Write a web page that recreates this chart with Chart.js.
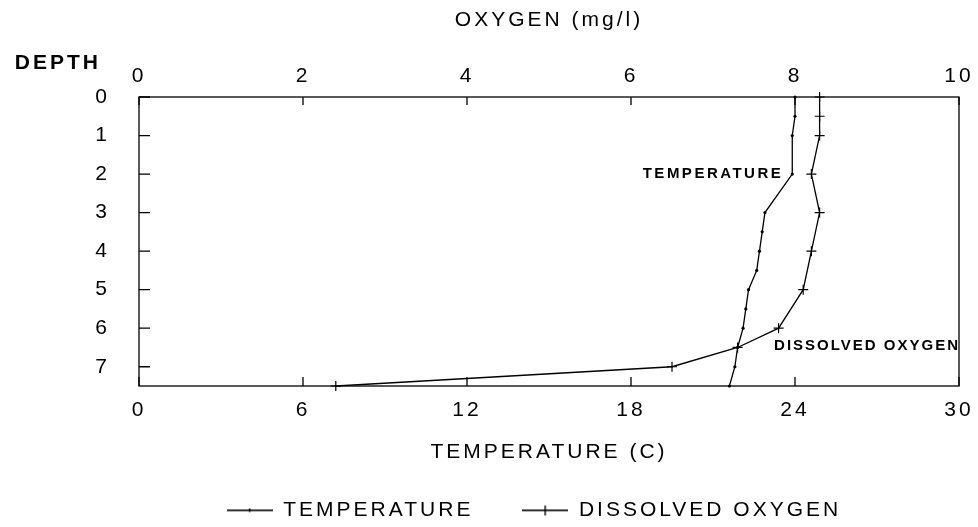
<!DOCTYPE html>
<html lang="en">
<head>
    <meta charset="UTF-8">
    <title>Depth profile</title>
    <style>
        body {
            margin: 0;
            padding: 0;
            background-color: #fff;
        }
        #wrap {
            width: 978px;
            height: 527px;
        }
    </style>
    <script src="https://cdn.jsdelivr.net/npm/chart.js"></script>
</head>
<body>
    <div id="wrap"><canvas id="profileChart" width="978" height="527"></canvas></div>

    <script>
        // values
        const depthTemp = [0, 0.5, 1, 2, 3, 3.5, 4, 4.5, 5, 5.5, 6, 6.5, 7, 7.5];
        const temperature = [24.0, 24.0, 23.9, 23.9, 22.9, 22.8, 22.7, 22.6, 22.3, 22.2, 22.1, 21.9, 21.8, 21.6];

        const depthOxygen = [0, 0.5, 1, 2, 3, 4, 5, 6, 6.5, 7, 7.5];
        const oxygen = [8.3, 8.3, 8.3, 8.2, 8.3, 8.2, 8.1, 7.8, 7.3, 6.5, 2.4];

        // axis ticks
        const depthTicks = [0, 1, 2, 3, 4, 5, 6, 7];
        const tempTicks = [0, 6, 12, 18, 24, 30];
        const oxygenTicks = [0, 2, 4, 6, 8, 10];

        const FONT = '"Liberation Sans", Arial, sans-serif';
        Chart.defaults.color = '#000';
        Chart.defaults.font.family = FONT;
        Chart.defaults.font.size = 21;

        // small line swatches for the legend
        function swatch(cross) {
            const c = document.createElement('canvas');
            c.width = 46;
            c.height = 12;
            const g = c.getContext('2d');
            g.fillStyle = '#000';
            g.fillRect(0, 5, 46, 1.6);
            if (cross) {
                g.fillRect(22, 1, 1.4, 10);
            } else {
                g.fillRect(22, 4, 1.6, 3.5);
            }
            return c;
        }
        const swatches = [swatch(false), swatch(true)];

        // letter spaced text like the original print
        const spacing = {
            id: 'spacing',
            beforeUpdate(chart) { chart.ctx.letterSpacing = '3px'; },
            beforeDraw(chart) { chart.ctx.letterSpacing = '3px'; },
            afterLayout(chart) { chart.legend.right -= 30; }
        };

        // box round the plot, inward tick marks, DEPTH and curve labels
        const frame = {
            id: 'frame',
            beforeDatasetsDraw(chart) {
                const {ctx, chartArea: a, scales} = chart;
                ctx.save();
                ctx.strokeStyle = '#000';
                ctx.lineWidth = 1.3;
                ctx.strokeRect(a.left, a.top, a.width, a.height);
                ctx.beginPath();
                depthTicks.forEach(v => {
                    const y = scales.y.getPixelForValue(v);
                    ctx.moveTo(a.left, y);
                    ctx.lineTo(a.left + 11, y);
                });
                oxygenTicks.forEach(v => {
                    const x = scales.x2.getPixelForValue(v);
                    ctx.moveTo(x, a.top);
                    ctx.lineTo(x, a.top + 8);
                });
                tempTicks.forEach(v => {
                    const x = scales.x.getPixelForValue(v);
                    ctx.moveTo(x, a.bottom);
                    ctx.lineTo(x, a.bottom - 9);
                });
                ctx.stroke();
                ctx.restore();
            },
            afterDraw(chart) {
                const {ctx, chartArea: a, scales} = chart;
                ctx.save();
                ctx.fillStyle = '#000';
                ctx.textAlign = 'right';
                ctx.textBaseline = 'middle';

                ctx.font = 'bold 21px ' + FONT;
                ctx.letterSpacing = '3px';
                ctx.fillText('DEPTH', a.left - 38, a.top - 34);

                ctx.font = 'bold 15px ' + FONT;
                ctx.letterSpacing = '2.5px';
                ctx.fillText('TEMPERATURE', scales.x.getPixelForValue(temperature[3]) - 9, scales.y.getPixelForValue(2));

                ctx.letterSpacing = '2px';
                ctx.fillText('DISSOLVED OXYGEN', a.right + 1, scales.y.getPixelForValue(6.5) - 2);
                ctx.restore();
            }
        };

        const noSidePad = s => { s.paddingLeft = 0; s.paddingRight = 0; };

        const ctx = document.getElementById('profileChart').getContext('2d');
        new Chart(ctx, {
            type: 'scatter',
            data: {
                datasets: [{
                    label: 'TEMPERATURE',
                    data: depthTemp.map((d, i) => ({x: temperature[i], y: d})),
                    xAxisID: 'x',
                    yAxisID: 'y',
                    showLine: true,
                    borderColor: '#000',
                    backgroundColor: '#000',
                    borderWidth: 1.3,
                    pointRadius: 1.6,
                    pointBorderWidth: 0,
                    clip: false
                }, {
                    label: 'DISSOLVED OXYGEN',
                    data: depthOxygen.map((d, i) => ({x: oxygen[i], y: d})),
                    xAxisID: 'x2',
                    yAxisID: 'y',
                    showLine: true,
                    borderColor: '#000',
                    backgroundColor: '#000',
                    borderWidth: 1.3,
                    pointStyle: 'cross',
                    pointRadius: 5,
                    pointBorderWidth: 1.2,
                    clip: false
                }]
            },
            options: {
                responsive: false,
                animation: false,
                layout: {
                    padding: {left: 0, right: 19, top: 0, bottom: -4}
                },
                plugins: {
                    tooltip: {enabled: false},
                    legend: {
                        position: 'bottom',
                        fullSize: false,
                        labels: {
                            usePointStyle: true,
                            pointStyleWidth: 46,
                            padding: 49,
                            color: '#000',
                            font: {size: 21},
                            generateLabels: (chart) => chart.data.datasets.map((ds, i) => ({
                                text: ds.label,
                                pointStyle: swatches[i],
                                datasetIndex: i,
                                lineWidth: 0,
                                fontColor: '#000',
                                hidden: false
                            }))
                        }
                    }
                },
                scales: {
                    x: {
                        type: 'linear',
                        position: 'bottom',
                        min: 0,
                        max: 30,
                        afterBuildTicks: s => { s.ticks = tempTicks.map(v => ({value: v})); },
                        afterFit: s => { s.height = 65; noSidePad(s); },
                        grid: {display: false, drawTicks: false},
                        border: {display: false},
                        ticks: {padding: 12, maxRotation: 0, autoSkip: false},
                        title: {display: true, text: 'TEMPERATURE (C)', padding: {top: 0, bottom: -14}}
                    },
                    x2: {
                        type: 'linear',
                        position: 'top',
                        min: 0,
                        max: 10,
                        afterBuildTicks: s => { s.ticks = oxygenTicks.map(v => ({value: v})); },
                        afterFit: s => { s.height = 97; noSidePad(s); },
                        grid: {display: false, drawTicks: false},
                        border: {display: false},
                        ticks: {padding: 8, maxRotation: 0, autoSkip: false},
                        title: {display: true, text: 'OXYGEN (mg/l)', padding: {top: 8, bottom: 0}}
                    },
                    y: {
                        type: 'linear',
                        position: 'left',
                        reverse: true,
                        min: 0,
                        max: 7.5,
                        afterBuildTicks: s => { s.ticks = depthTicks.map(v => ({value: v})); },
                        afterFit: s => { s.width = 139; },
                        grid: {display: false, drawTicks: false},
                        border: {display: false},
                        ticks: {padding: 29, autoSkip: false}
                    }
                }
            },
            plugins: [spacing, frame]
        });
    </script>
</body>
</html>
